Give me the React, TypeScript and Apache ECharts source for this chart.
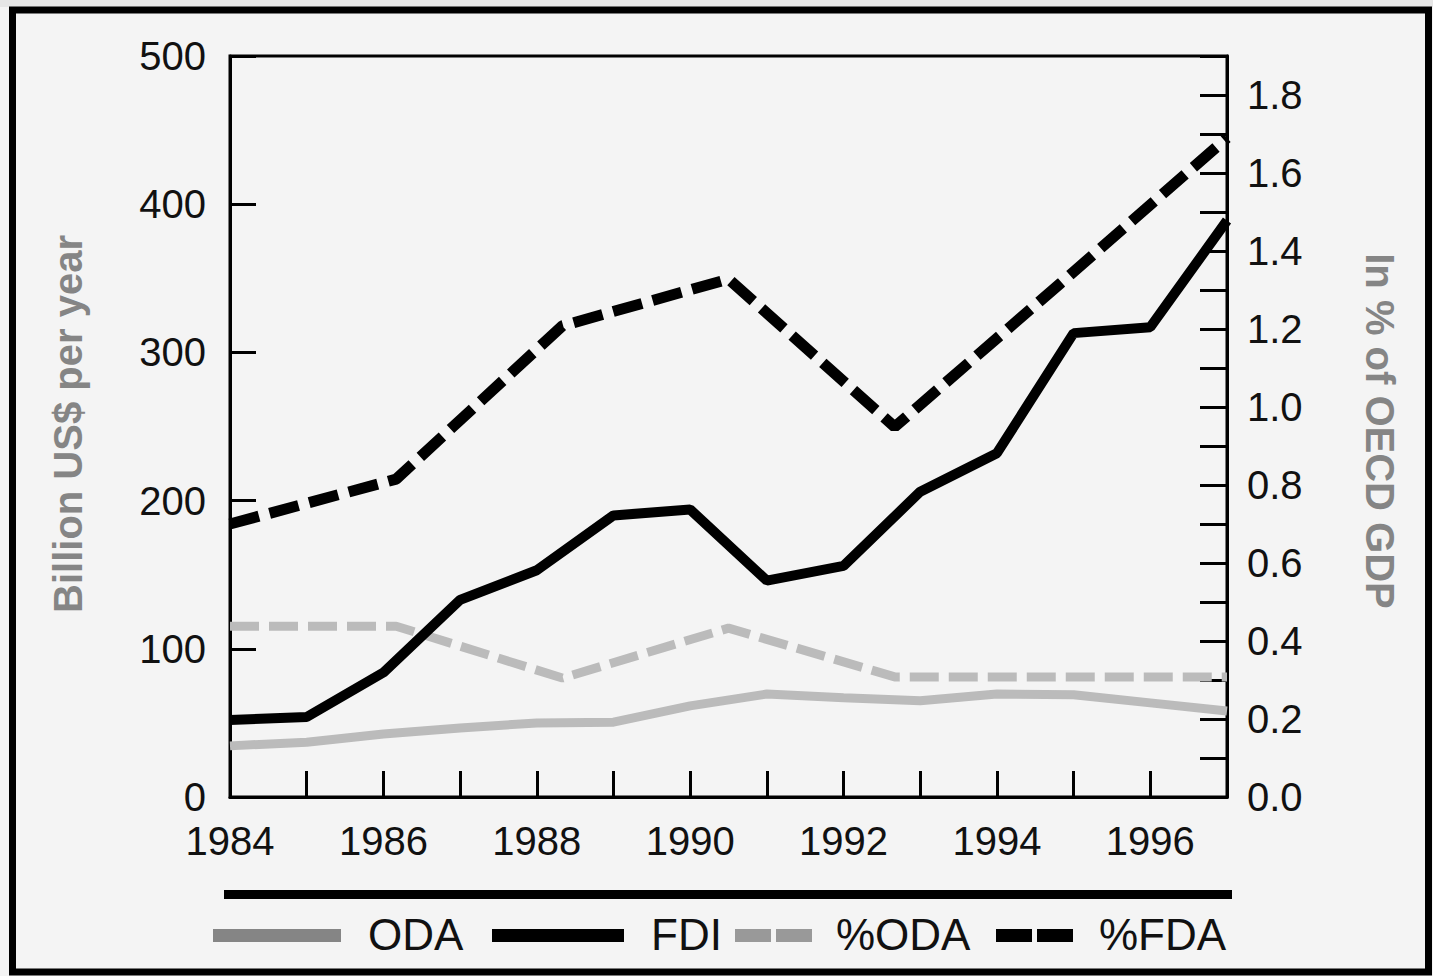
import React, { useEffect, useRef } from "react";
import * as echarts from "echarts";

// ---- data ----
const years = [1984, 1985, 1986, 1987, 1988, 1989, 1990, 1991, 1992, 1993, 1994, 1995, 1996, 1997];
const odaValues = [34.5, 37, 42.5, 46.5, 50, 50.5, 61.5, 69.5, 67, 65, 69.5, 69, 63.5, 58];
const fdiValues = [52, 54, 84, 133, 153, 190, 194, 146, 156, 206, 232, 313, 317, 389];

// percentage series are plotted as 7 evenly spread points across the period
const pctPoints = ["p1", "p2", "p3", "p4", "p5", "p6", "p7"];
const pctOdaValues = [0.438, 0.438, 0.305, 0.433, 0.308, 0.308, 0.308];
const pctFdaValues = [0.7, 0.815, 1.208, 1.328, 0.949, 1.318, 1.69];

const leftTicks = { min: 0, max: 500, interval: 100 };
const rightTicks = { min: 0, max: 1.9, interval: 0.1 };
const yearRange = { min: 1984, max: 1997, interval: 1 };

const legendItems = ["ODA", "FDI", "%ODA", "%FDA"];
const leftAxisName = "Billion US$ per year";
const rightAxisName = "In % of OECD GDP";

const FONT = "'Liberation Sans', Arial, Helvetica, sans-serif";

export default function App() {
  const ref = useRef<HTMLDivElement>(null);

  useEffect(() => {
    if (!ref.current) return;
    const chart = echarts.init(ref.current, undefined, { renderer: "svg" });

    const labelStyle = { color: "#111", fontSize: 40, lineHeight: 30, fontFamily: FONT };

    const legendY = 935.5;
    const textStyle = (x: number, text: string) => ({
      type: "text",
      x,
      y: legendY - 1,
      style: {
        text,
        fill: "#111",
        font: `44px ${FONT}`,
        textAlign: "left",
        textVerticalAlign: "middle",
        align: "left",
        verticalAlign: "middle",
      },
    });

    const option: any = {
      animation: false,
      backgroundColor: "#f4f4f4",
      grid: {
        left: 230,
        right: 206,
        top: 56,
        bottom: 179,
        show: true,
        borderColor: "#000",
        borderWidth: 3,
        backgroundColor: "transparent",
      },
      xAxis: [
        {
          type: "value",
          min: yearRange.min,
          max: yearRange.max,
          interval: yearRange.interval,
          axisLine: { show: true, lineStyle: { color: "#000", width: 3 } },
          axisTick: { show: true, inside: true, length: 26, lineStyle: { color: "#000", width: 3 } },
          splitLine: { show: false },
          axisLabel: {
            ...labelStyle,
            margin: 29,
            formatter: (v: number) => (v % 2 === 0 ? String(v) : ""),
          },
        },
        {
          type: "category",
          data: pctPoints,
          boundaryGap: false,
          show: false,
          position: "bottom",
        },
      ],
      yAxis: [
        {
          type: "value",
          min: leftTicks.min,
          max: leftTicks.max,
          interval: leftTicks.interval,
          position: "left",
          axisLine: { show: true, lineStyle: { color: "#000", width: 3 } },
          axisTick: { show: true, inside: true, length: 26, lineStyle: { color: "#000", width: 3 } },
          splitLine: { show: false },
          axisLabel: { ...labelStyle, margin: 24 },
        },
        {
          type: "value",
          min: rightTicks.min,
          max: rightTicks.max,
          interval: rightTicks.interval,
          position: "right",
          axisLine: { show: true, lineStyle: { color: "#000", width: 3 } },
          axisTick: { show: true, inside: true, length: 27, lineStyle: { color: "#000", width: 3 } },
          splitLine: { show: false },
          axisLabel: {
            ...labelStyle,
            margin: 20,
            formatter: (v: number) => {
              const k = Math.round(v * 10);
              return k % 2 === 0 && k < 19 ? (k / 10).toFixed(1) : "";
            },
          },
        },
      ],
      series: [
        {
          name: "%ODA",
          type: "line",
          xAxisIndex: 1,
          yAxisIndex: 1,
          data: pctOdaValues,
          symbol: "none",
          lineStyle: { color: "#bbbbbb", width: 9, type: [29, 10], cap: "butt" },
          z: 2,
        },
        {
          name: "ODA",
          type: "line",
          xAxisIndex: 0,
          yAxisIndex: 0,
          data: years.map((y, i) => [y, odaValues[i]]),
          symbol: "none",
          lineStyle: { color: "#bbbbbb", width: 9, cap: "butt" },
          z: 3,
        },
        {
          name: "FDI",
          type: "line",
          xAxisIndex: 0,
          yAxisIndex: 0,
          data: years.map((y, i) => [y, fdiValues[i]]),
          symbol: "none",
          lineStyle: { color: "#000", width: 10, cap: "butt" },
          z: 4,
        },
        {
          name: "%FDA",
          type: "line",
          xAxisIndex: 1,
          yAxisIndex: 1,
          data: pctFdaValues,
          symbol: "none",
          lineStyle: { color: "#000", width: 11, type: [30, 11], cap: "butt" },
          z: 5,
        },
      ],
      graphic: [
        { type: "rect", shape: { x: 0, y: 0, width: 1433, height: 7 }, style: { fill: "#e6e6e6" }, silent: true },
        {
          type: "rect",
          shape: { x: 12.5, y: 10, width: 1416, height: 962 },
          style: { fill: "none", stroke: "#000", lineWidth: 7 },
          silent: true,
        },
        {
          type: "text",
          x: 68,
          y: 424,
          rotation: Math.PI / 2,
          style: {
            text: leftAxisName,
            fill: "#858585",
            font: `bold 40px ${FONT}`,
            textAlign: "center",
            textVerticalAlign: "middle",
            align: "center",
            verticalAlign: "middle",
          },
        },
        {
          type: "text",
          x: 1380,
          y: 431,
          rotation: -Math.PI / 2,
          style: {
            text: rightAxisName,
            fill: "#858585",
            font: `bold 40px ${FONT}`,
            textAlign: "center",
            textVerticalAlign: "middle",
            align: "center",
            verticalAlign: "middle",
          },
        },
        {
          type: "line",
          shape: { x1: 224, y1: 894.5, x2: 1232, y2: 894.5 },
          style: { stroke: "#000", lineWidth: 9 },
        },
        {
          type: "line",
          shape: { x1: 213, y1: legendY, x2: 341, y2: legendY },
          style: { stroke: "#858585", lineWidth: 13 },
        },
        textStyle(368, legendItems[0]),
        {
          type: "line",
          shape: { x1: 492, y1: legendY, x2: 624, y2: legendY },
          style: { stroke: "#000", lineWidth: 13 },
        },
        textStyle(651, legendItems[1]),
        {
          type: "line",
          shape: { x1: 735, y1: legendY, x2: 812, y2: legendY },
          style: { stroke: "#999999", lineWidth: 13, lineDash: [36, 5] },
        },
        textStyle(836, legendItems[2]),
        {
          type: "line",
          shape: { x1: 996, y1: legendY, x2: 1073, y2: legendY },
          style: { stroke: "#000", lineWidth: 13, lineDash: [36, 5] },
        },
        textStyle(1099, legendItems[3]),
      ],
    };

    chart.setOption(option);
    return () => chart.dispose();
  }, []);

  return (
    <div
      ref={ref}
      style={{ position: "fixed", left: 0, top: 0, width: 1433, height: 976 }}
    />
  );
}
